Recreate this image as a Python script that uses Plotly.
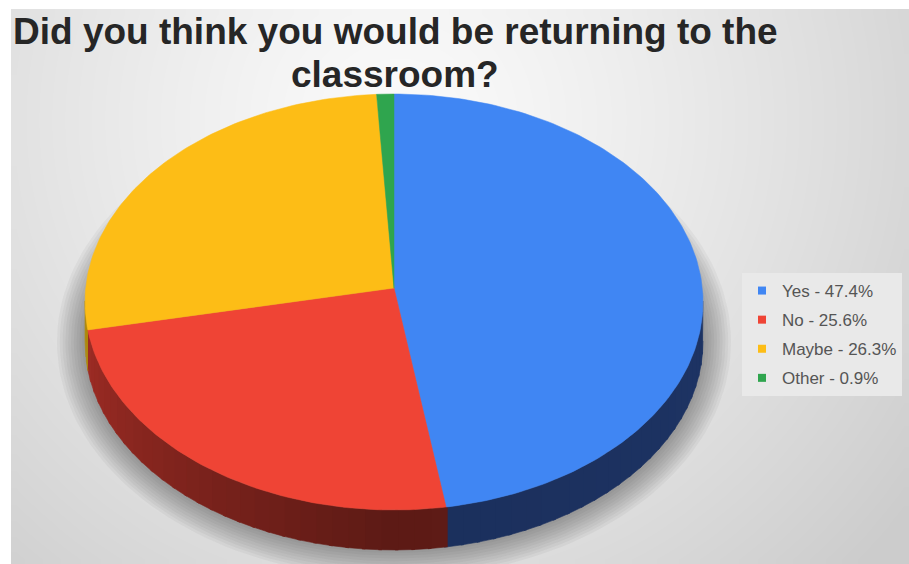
import numpy as np
import plotly.graph_objects as go

# Survey answers
labels = ["Yes", "No", "Maybe", "Other"]
percent = [47.4, 25.6, 26.3, 0.9]
top_colors = ["#4086f3", "#ef4435", "#fdbd16", "#2fa54e"]
side_dark = ["#1b2f5c", "#5c1a15", "#8a6a05", "#1a5a2a"]
side_light = ["#213d73", "#a32d25", "#b08a0a", "#237a3a"]

title_lines = ["Did you think you would be returning to the", "classroom?"]

W, H = 909, 564
cx, cy = 394.0, 302.0      # centre of the top face (pixel units)
rx, ry = 309.0, 208.0      # top face radii
depth = 40.0               # thickness of the disc
apex_y = cy - 14.0         # where the slice edges meet (perspective)


def rim(t_deg, drop=0.0):
    t = np.radians(t_deg)
    return cx + rx * np.sin(t), cy - ry * np.cos(t) + drop


fig = go.Figure()

# background: soft radial grey gradient
nx, ny = 90, 60
x0b, y0b = 11.0, 9.0
dxb, dyb = (W - x0b) / nx, (H - y0b) / ny
gx = x0b + dxb / 2 + dxb * np.arange(nx)
gy = y0b + dyb / 2 + dyb * np.arange(ny)
GX, GY = np.meshgrid(gx, gy)
dist = np.sqrt((GX - 400) ** 2 + (GY - 120) ** 2)
shade = 250 - 46 * np.clip(dist / 640, 0, 1) ** 1.25
fig.add_trace(go.Heatmap(
    x=gx, y=gy, z=shade, zmin=0, zmax=255, zsmooth="best",
    colorscale=[[0, "rgb(0,0,0)"], [1, "rgb(255,255,255)"]],
    showscale=False, hoverinfo="skip"))

# soft drop shadow under the disc (sides and front only)
ts = np.linspace(0, 360, 181)
for k in range(10):
    grow = 28 - 2.8 * k
    sx = cx + (rx + grow) * np.sin(np.radians(ts))
    sy = cy + 40 - (ry + grow) * np.cos(np.radians(ts))
    fig.add_trace(go.Scatter(
        x=sx, y=sy, fill="toself", mode="lines", line=dict(width=0),
        fillcolor="rgba(60,60,60,0.05)", hoverinfo="skip", showlegend=False))

# slice boundaries (degrees, clockwise from 12 o'clock)
total = sum(percent)
bounds = [0.0]
for p in percent:
    bounds.append(bounds[-1] + 360.0 * p / total)


def mix(c1, c2, f):
    a = [int(c1[i:i + 2], 16) for i in (1, 3, 5)]
    b = [int(c2[i:i + 2], 16) for i in (1, 3, 5)]
    return "rgb({},{},{})".format(*[round(a[j] + (b[j] - a[j]) * f) for j in range(3)])


# side wall, visible on the front half of the disc
for i in range(len(percent)):
    lo, hi = max(bounds[i], 90.0), min(bounds[i + 1], 270.0)
    if hi <= lo:
        continue
    steps = max(int((hi - lo) / 3), 1)
    edges = np.linspace(lo, hi, steps + 1)
    for a, b in zip(edges[:-1], edges[1:]):
        mid = (a + b) / 2
        # darkest near the front-centre, lighter toward the left
        f = np.clip((mid - 180) / 90, 0, 1) if mid > 180 else np.clip((180 - mid) / 90, 0, 1) * 0.35
        col = mix(side_dark[i], side_light[i], f)
        tt = np.linspace(a - 0.3, b + 0.3, 6)
        ux, uy = rim(tt)
        lx, ly = rim(tt[::-1], depth)
        fig.add_trace(go.Scatter(
            x=np.concatenate([ux, lx]), y=np.concatenate([uy, ly]),
            fill="toself", mode="lines", line=dict(width=0.6, color=col),
            fillcolor=col, hoverinfo="skip", showlegend=False))

# top face slices
for i in range(len(percent)):
    tt = np.linspace(bounds[i], bounds[i + 1], max(int(bounds[i + 1] - bounds[i]) + 2, 3))
    ex, ey = rim(tt)
    fig.add_trace(go.Scatter(
        x=np.concatenate([[cx], ex, [cx]]), y=np.concatenate([[apex_y], ey, [apex_y]]),
        fill="toself", mode="lines", line=dict(width=0.5, color=top_colors[i]),
        fillcolor=top_colors[i], hoverinfo="skip", showlegend=False))

# legend entries
for i, lab in enumerate(labels):
    fig.add_trace(go.Scatter(
        x=[None], y=[None], mode="markers",
        marker=dict(symbol="square", size=8, color=top_colors[i]),
        name=f"{lab} - {percent[i]}%", legendgroup=lab, showlegend=True))

# two-line title, each line placed on its own
for line, ypos in zip(title_lines, [31, 74]):
    fig.add_annotation(
        x=395, y=ypos, xref="x", yref="y", text="<b>" + line + "</b>",
        showarrow=False, xanchor="center", yanchor="middle", align="center",
        font=dict(family="Liberation Sans, Arial, sans-serif", size=37, color="#262626"))

fig.update_layout(
    width=W, height=H,
    margin=dict(l=0, r=0, t=0, b=0),
    paper_bgcolor="white", plot_bgcolor="white",
    xaxis=dict(range=[0, W], visible=False, domain=[0, 1], fixedrange=True),
    yaxis=dict(range=[H, 0], visible=False, domain=[0, 1], fixedrange=True),
    legend=dict(
        x=742 / W, y=1 - 273 / H, xanchor="left", yanchor="top",
        bgcolor="#e9e9e9", borderwidth=0, tracegroupgap=4,
        font=dict(family="Liberation Sans, Arial, sans-serif", size=17, color="#555555"),
        itemwidth=30),
    showlegend=True,
)

fig.write_html("out.html")
